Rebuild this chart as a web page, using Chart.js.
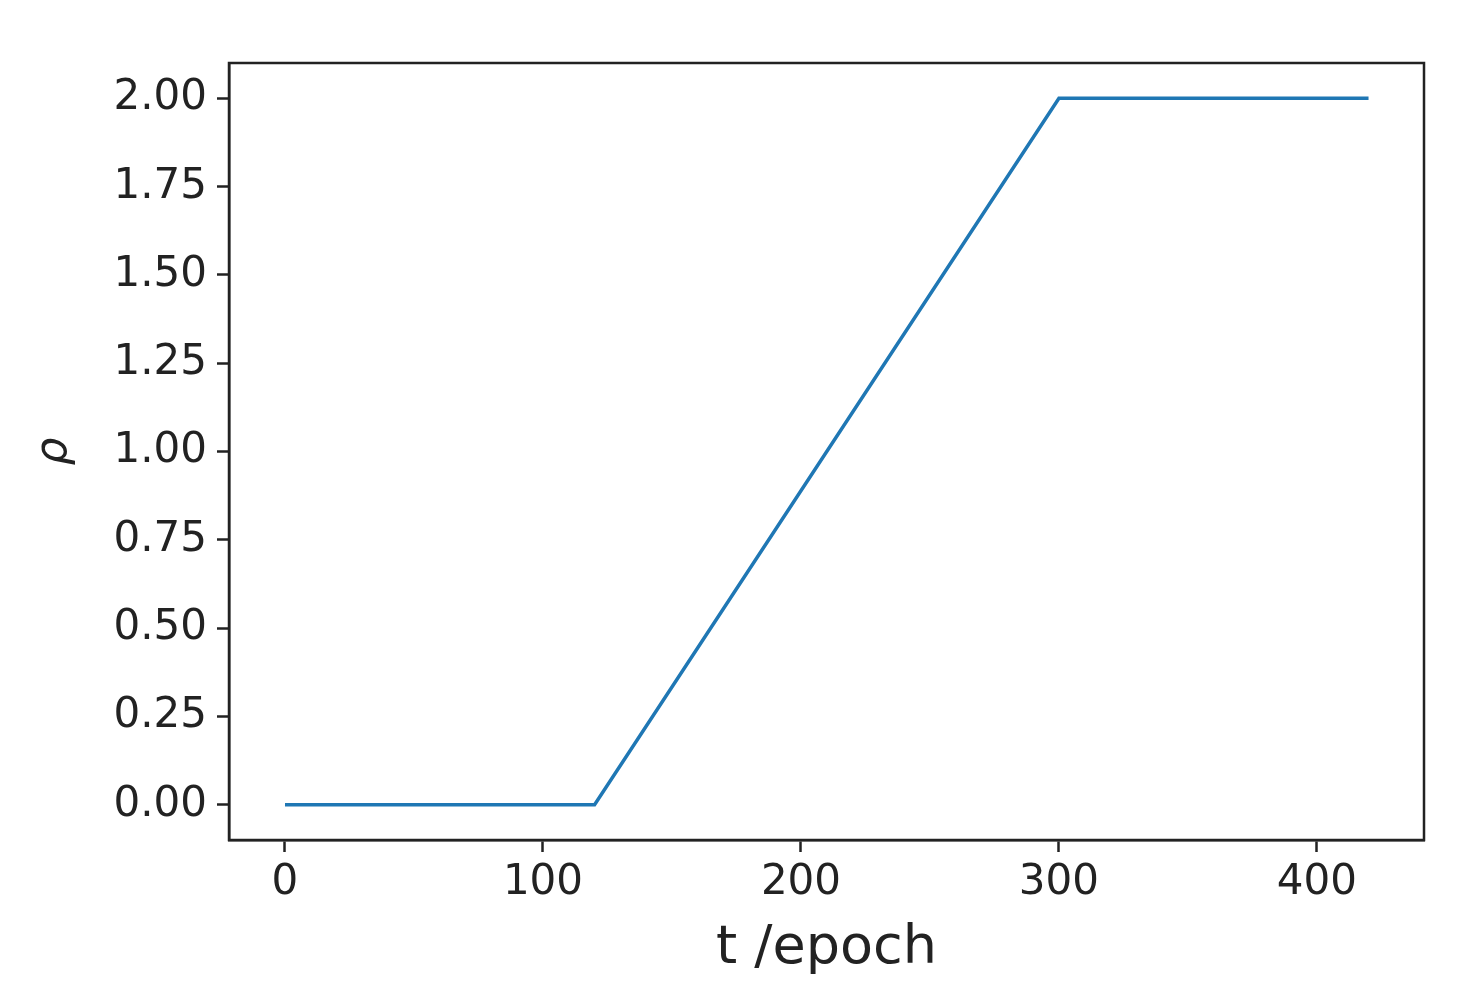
<!DOCTYPE html>
<html><head><meta charset="utf-8">
<script src="https://cdn.jsdelivr.net/npm/chart.js@4"></script>
<style>html,body{margin:0;padding:0;background:#fff}#w{width:1481px;height:1003px}</style>
</head><body><div id="w"><canvas id="c"></canvas></div>
<script>
const epochs = [0, 120, 300, 420];
const rho = [0, 0, 2, 2];
const xTicks = [0, 100, 200, 300, 400];
const yTicks = [0, 0.25, 0.5, 0.75, 1, 1.25, 1.5, 1.75, 2];
const frame = {id:'frame', afterDraw(ch){const a=ch.chartArea,c=ch.ctx;c.save();c.strokeStyle='#222';c.lineWidth=2.5;c.strokeRect(a.left,a.top,a.right-a.left,a.bottom-a.top);c.restore();}};
const font = {family:'DejaVu Sans', size:42};
new Chart(document.getElementById('c'), {
  type:'scatter',
  data:{datasets:[{data:epochs.map((x,i)=>({x, y:rho[i]})), showLine:true, borderColor:'#1f77b4', borderWidth:3.5, pointRadius:0, tension:0}]},
  options:{
    responsive:true, maintainAspectRatio:false, animation:false,
    layout:{padding:{top:63, right:57, left:0, bottom:0}},
    plugins:{legend:{display:false}, tooltip:{enabled:false}},
    scales:{
      x:{type:'linear', min:-21.7, max:441.5,
        afterBuildTicks(s){s.ticks=xTicks.map(v=>({value:v}));},
        afterFit(s){s.height=163;},
        ticks:{font, color:'#222', padding:6, maxRotation:0},
        grid:{drawOnChartArea:false, tickLength:12, tickWidth:2.5, tickColor:'#222'},
        border:{color:'#222', width:2.5},
        title:{display:true, text:'t /epoch', font:{family:'DejaVu Sans', size:54}, color:'#222', padding:{top:0, bottom:22}}},
      y:{type:'linear', min:-0.1, max:2.1,
        afterBuildTicks(s){s.ticks=yTicks.map(v=>({value:v}));},
        afterFit(s){s.width=229;},
        ticks:{font, color:'#222', padding:10, callback:v=>v.toFixed(2)},
        grid:{drawOnChartArea:false, tickLength:12, tickWidth:2.5, tickColor:'#222'},
        border:{color:'#222', width:2.5},
        title:{display:true, text:'ρ', font:{family:'DejaVu Sans', size:44, style:'italic'}, color:'#222', padding:{top:28, bottom:0}}}
    }
  },
  plugins:[frame]
});
</script></body></html>
